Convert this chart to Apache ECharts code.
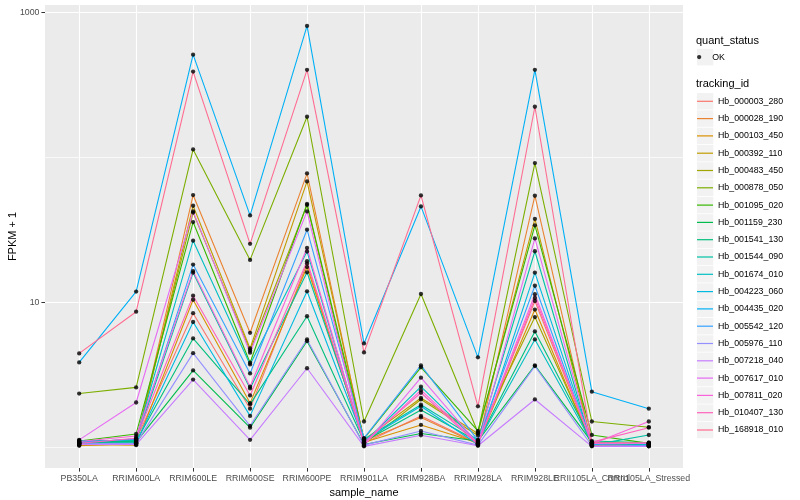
<!DOCTYPE html>
<html><head><meta charset="utf-8">
<script src="https://cdn.jsdelivr.net/npm/echarts@6/dist/echarts.min.js"></script>
<style>html,body{margin:0;padding:0;background:#fff}#c{width:800px;height:500px}</style>
</head><body><div id="c"></div>
<script>
const categories = ['PB350LA','RRIM600LA','RRIM600LE','RRIM600SE','RRIM600PE','RRIM901LA','RRIM928BA','RRIM928LA','RRIM928LE','RRII105LA_Control','RRII105LA_Stressed'];
const trackingIds = ['Hb_000003_280','Hb_000028_190','Hb_000103_450','Hb_000392_110','Hb_000483_450','Hb_000878_050','Hb_001095_020','Hb_001159_230','Hb_001541_130','Hb_001544_090','Hb_001674_010','Hb_004223_060','Hb_004435_020','Hb_005542_120','Hb_005976_110','Hb_007218_040','Hb_007617_010','Hb_007811_020','Hb_010407_130','Hb_168918_010'];
const colors = ['#F8766D','#EA8331','#D89000','#C09B00','#A3A500','#7CAE00','#39B600','#00BB4E','#00BF7D','#00C1A3','#00BFC4','#00BAE0','#00B0F6','#35A2FF','#9590FF','#C77CFF','#E76BF3','#FA62DB','#FF62BC','#FF6C91'];

// FPKM + 1 per sample (same order as categories)
const hb_000003_280 = [1.05, 1.12, 8.4, 1.84, 18.5, 1.06, 1.64, 1.06, 10.2, 1.04, 1.04];
const hb_000028_190 = [1.02, 1.06, 55.0, 6.15, 77.6, 1.10, 1.60, 1.05, 54.4, 1.03, 1.03];
const hb_000103_450 = [1.04, 1.03, 10.4, 2.01, 17.5, 1.08, 1.42, 1.07, 8.9, 1.02, 1.02];
const hb_000392_110 = [1.03, 1.05, 46.4, 4.79, 68.3, 1.12, 2.18, 1.24, 37.6, 1.05, 1.05];
const hb_000483_450 = [1.06, 1.10, 41.6, 4.64, 47.0, 1.05, 2.13, 1.20, 7.9, 1.06, 1.06];
const hb_000878_050 = [2.34, 2.58, 113.6, 19.6, 191, 1.50, 11.4, 1.26, 91.5, 1.50, 1.37];
const hb_001095_020 = [1.10, 1.23, 35.8, 3.82, 47.7, 1.14, 3.55, 1.29, 34.0, 1.21, 1.06];
const hb_001159_230 = [1.08, 1.08, 3.38, 1.36, 5.38, 1.04, 1.24, 1.10, 3.66, 1.08, 1.03];
const hb_001541_130 = [1.09, 1.09, 5.62, 1.97, 8.0, 1.09, 1.80, 1.09, 6.28, 1.10, 1.07];
const hb_001544_090 = [1.11, 1.11, 16.0, 2.54, 16.1, 1.13, 1.96, 1.12, 22.5, 1.03, 1.21];
const hb_001674_010 = [1.07, 1.14, 26.6, 3.72, 22.4, 1.07, 2.61, 1.08, 5.53, 1.07, 1.04];
const hb_004223_060 = [1.06, 1.07, 7.3, 1.64, 11.9, 1.11, 1.91, 1.04, 16.0, 1.05, 1.05];
const hb_004435_020 = [3.84, 11.85, 513, 39.8, 810, 5.19, 45.9, 4.16, 403, 2.41, 1.84];
const hb_005542_120 = [1.08, 1.13, 18.2, 3.22, 31.7, 1.15, 3.66, 1.11, 13.0, 1.04, 1.02];
const hb_005976_110 = [1.05, 1.06, 4.45, 1.40, 5.53, 1.03, 1.29, 1.03, 3.62, 1.02, 1.01];
const hb_007218_040 = [1.04, 1.04, 2.92, 1.12, 3.50, 1.01, 1.205, 1.02, 2.13, 1.01, 1.01];
const hb_007617_010 = [1.12, 2.03, 42.4, 4.48, 42.4, 1.02, 3.01, 1.05, 27.6, 1.06, 1.06];
const hb_007811_020 = [1.09, 1.19, 16.4, 2.61, 23.7, 1.05, 2.47, 1.06, 11.35, 1.05, 1.50];
const hb_010407_130 = [1.06, 1.15, 11.1, 2.27, 19.2, 1.08, 2.37, 1.04, 10.7, 1.08, 1.36];
const hb_168918_010 = [4.43, 8.6, 392, 25.3, 403, 4.50, 54.7, 1.91, 224, 1.07, 1.07];

const yTickLabels = [10, 1000];
const yGridValues = [1, 10, 100, 1000];

const seriesValues = [hb_000003_280, hb_000028_190, hb_000103_450, hb_000392_110, hb_000483_450, hb_000878_050, hb_001095_020, hb_001159_230, hb_001541_130, hb_001544_090, hb_001674_010, hb_004223_060, hb_004435_020, hb_005542_120, hb_005976_110, hb_007218_040, hb_007617_010, hb_007811_020, hb_010407_130, hb_168918_010];

const font = '"Liberation Sans", Arial, Helvetica, sans-serif';
const chart = echarts.init(document.getElementById('c'), null, {renderer: 'canvas'});

const lineSeries = trackingIds.map((id, k) => ({
  name: id, type: 'line', data: seriesValues[k].map((v, i) => [i, v]),
  showSymbol: false, symbol: 'none', silent: true, z: 2,
  lineStyle: {color: colors[k], width: 1.1}, itemStyle: {color: colors[k]}
}));
const pts = [];
seriesValues.forEach(arr => arr.forEach((v, i) => pts.push([i, v])));
const pointSeries = {name: 'OK', type: 'scatter', data: pts, symbol: 'circle', symbolSize: 4.3,
  itemStyle: {color: '#000'}, z: 5, silent: true};

const catIdx = categories.map((c, i) => i);
// labels split over two stacked axes so that overlapping labels are all drawn
const labelsA = catIdx.filter(i => i % 2 === 0);
const labelsB = catIdx.filter(i => i % 2 === 1);
const keyStep = 17.3, keyTop = 92.65;
const graphics = [
  {type: 'text', style: {x: 696, y: 40.7, text: 'quant_status', fontSize: 11, fontFamily: font, fill: '#000', verticalAlign: 'middle'}},
  {type: 'rect', z: 0, shape: {x: 697, y: 48.8, width: 16.3, height: 16.6}, style: {fill: '#F2F2F2'}},
  {type: 'text', style: {x: 696, y: 84.3, text: 'tracking_id', fontSize: 11, fontFamily: font, fill: '#000', verticalAlign: 'middle'}}
].concat(trackingIds.map((id, i) => ({type: 'rect', z: 0,
  shape: {x: 697, y: keyTop + i * keyStep + 0.4, width: 16.3, height: keyStep - 0.8}, style: {fill: '#F2F2F2'}})));

const yCommon = {type: 'log', logBase: 10, min: 0.716, max: 1130, position: 'left'};
const xCommon = {type: 'value', min: -0.6, max: 10.6, splitNumber: 11, minInterval: 1, maxInterval: 1, position: 'bottom'};
const xLabelStyle = {margin: 6, fontSize: 8.8, color: '#4D4D4D', fontFamily: font,
  hideOverlap: false, showMinLabel: true, showMaxLabel: true,
  formatter: v => (Number.isInteger(v) && categories[v] !== undefined) ? categories[v] : ''};

chart.setOption({
  animation: false,
  backgroundColor: '#fff',
  grid: {left: 45, right: 117, top: 5, bottom: 32, show: true, backgroundColor: '#EBEBEB', borderWidth: 0,
    containLabel: false, outerBoundsMode: 'none'},
  xAxis: [
    Object.assign({}, xCommon, {
      name: 'sample_name', nameLocation: 'middle', nameGap: 15,
      nameTextStyle: {fontSize: 11, color: '#000', fontFamily: font},
      axisLine: {show: false, onZero: false},
      axisTick: {show: true, length: 3.6, lineStyle: {color: '#333', width: 1}, customValues: catIdx},
      axisLabel: Object.assign({customValues: labelsA}, xLabelStyle),
      splitLine: {show: true, lineStyle: {color: '#fff', width: 1.1}}
    }),
    Object.assign({}, xCommon, {
      axisLine: {show: false, onZero: false},
      axisTick: {show: false, customValues: labelsB},
      axisLabel: Object.assign({customValues: labelsB}, xLabelStyle),
      splitLine: {show: false}
    })
  ],
  yAxis: [
    Object.assign({}, yCommon, {
      name: 'FPKM + 1', nameLocation: 'middle', nameGap: 27, nameRotate: 90,
      nameTextStyle: {fontSize: 11, color: '#000', fontFamily: font},
      axisLine: {show: false, onZero: false},
      axisTick: {show: false, customValues: yGridValues},
      axisLabel: {show: false, customValues: yGridValues},
      splitLine: {show: true, lineStyle: {color: ['#F9F9F9', '#FFFFFF'], width: 1.1}}
    }),
    Object.assign({}, yCommon, {
      axisLine: {show: false, onZero: false},
      axisTick: {show: true, length: 3.6, lineStyle: {color: '#333', width: 1}, customValues: yTickLabels},
      axisLabel: {customValues: yTickLabels, margin: 5.5, fontSize: 8.8, color: '#4D4D4D', fontFamily: font,
        showMinLabel: true, showMaxLabel: true,
        formatter: v => String(Math.round(v))},
      splitLine: {show: false}
    })
  ],
  legend: [
    {data: ['OK'], orient: 'vertical', left: 697, top: 48.45, padding: 0, itemGap: 0, itemWidth: 16, itemHeight: 4.3,
      icon: 'circle', selectedMode: false, textStyle: {fontSize: 8.8, color: '#000', fontFamily: font, lineHeight: 17.3}},
    {data: trackingIds, orient: 'vertical', left: 697, top: keyTop, padding: 0, itemGap: 0, itemWidth: 16, itemHeight: 1.2,
      icon: 'rect', selectedMode: false, textStyle: {fontSize: 8.8, color: '#000', fontFamily: font, lineHeight: keyStep}}
  ],
  graphic: graphics,
  series: lineSeries.concat([pointSeries])
});
</script></body></html>
